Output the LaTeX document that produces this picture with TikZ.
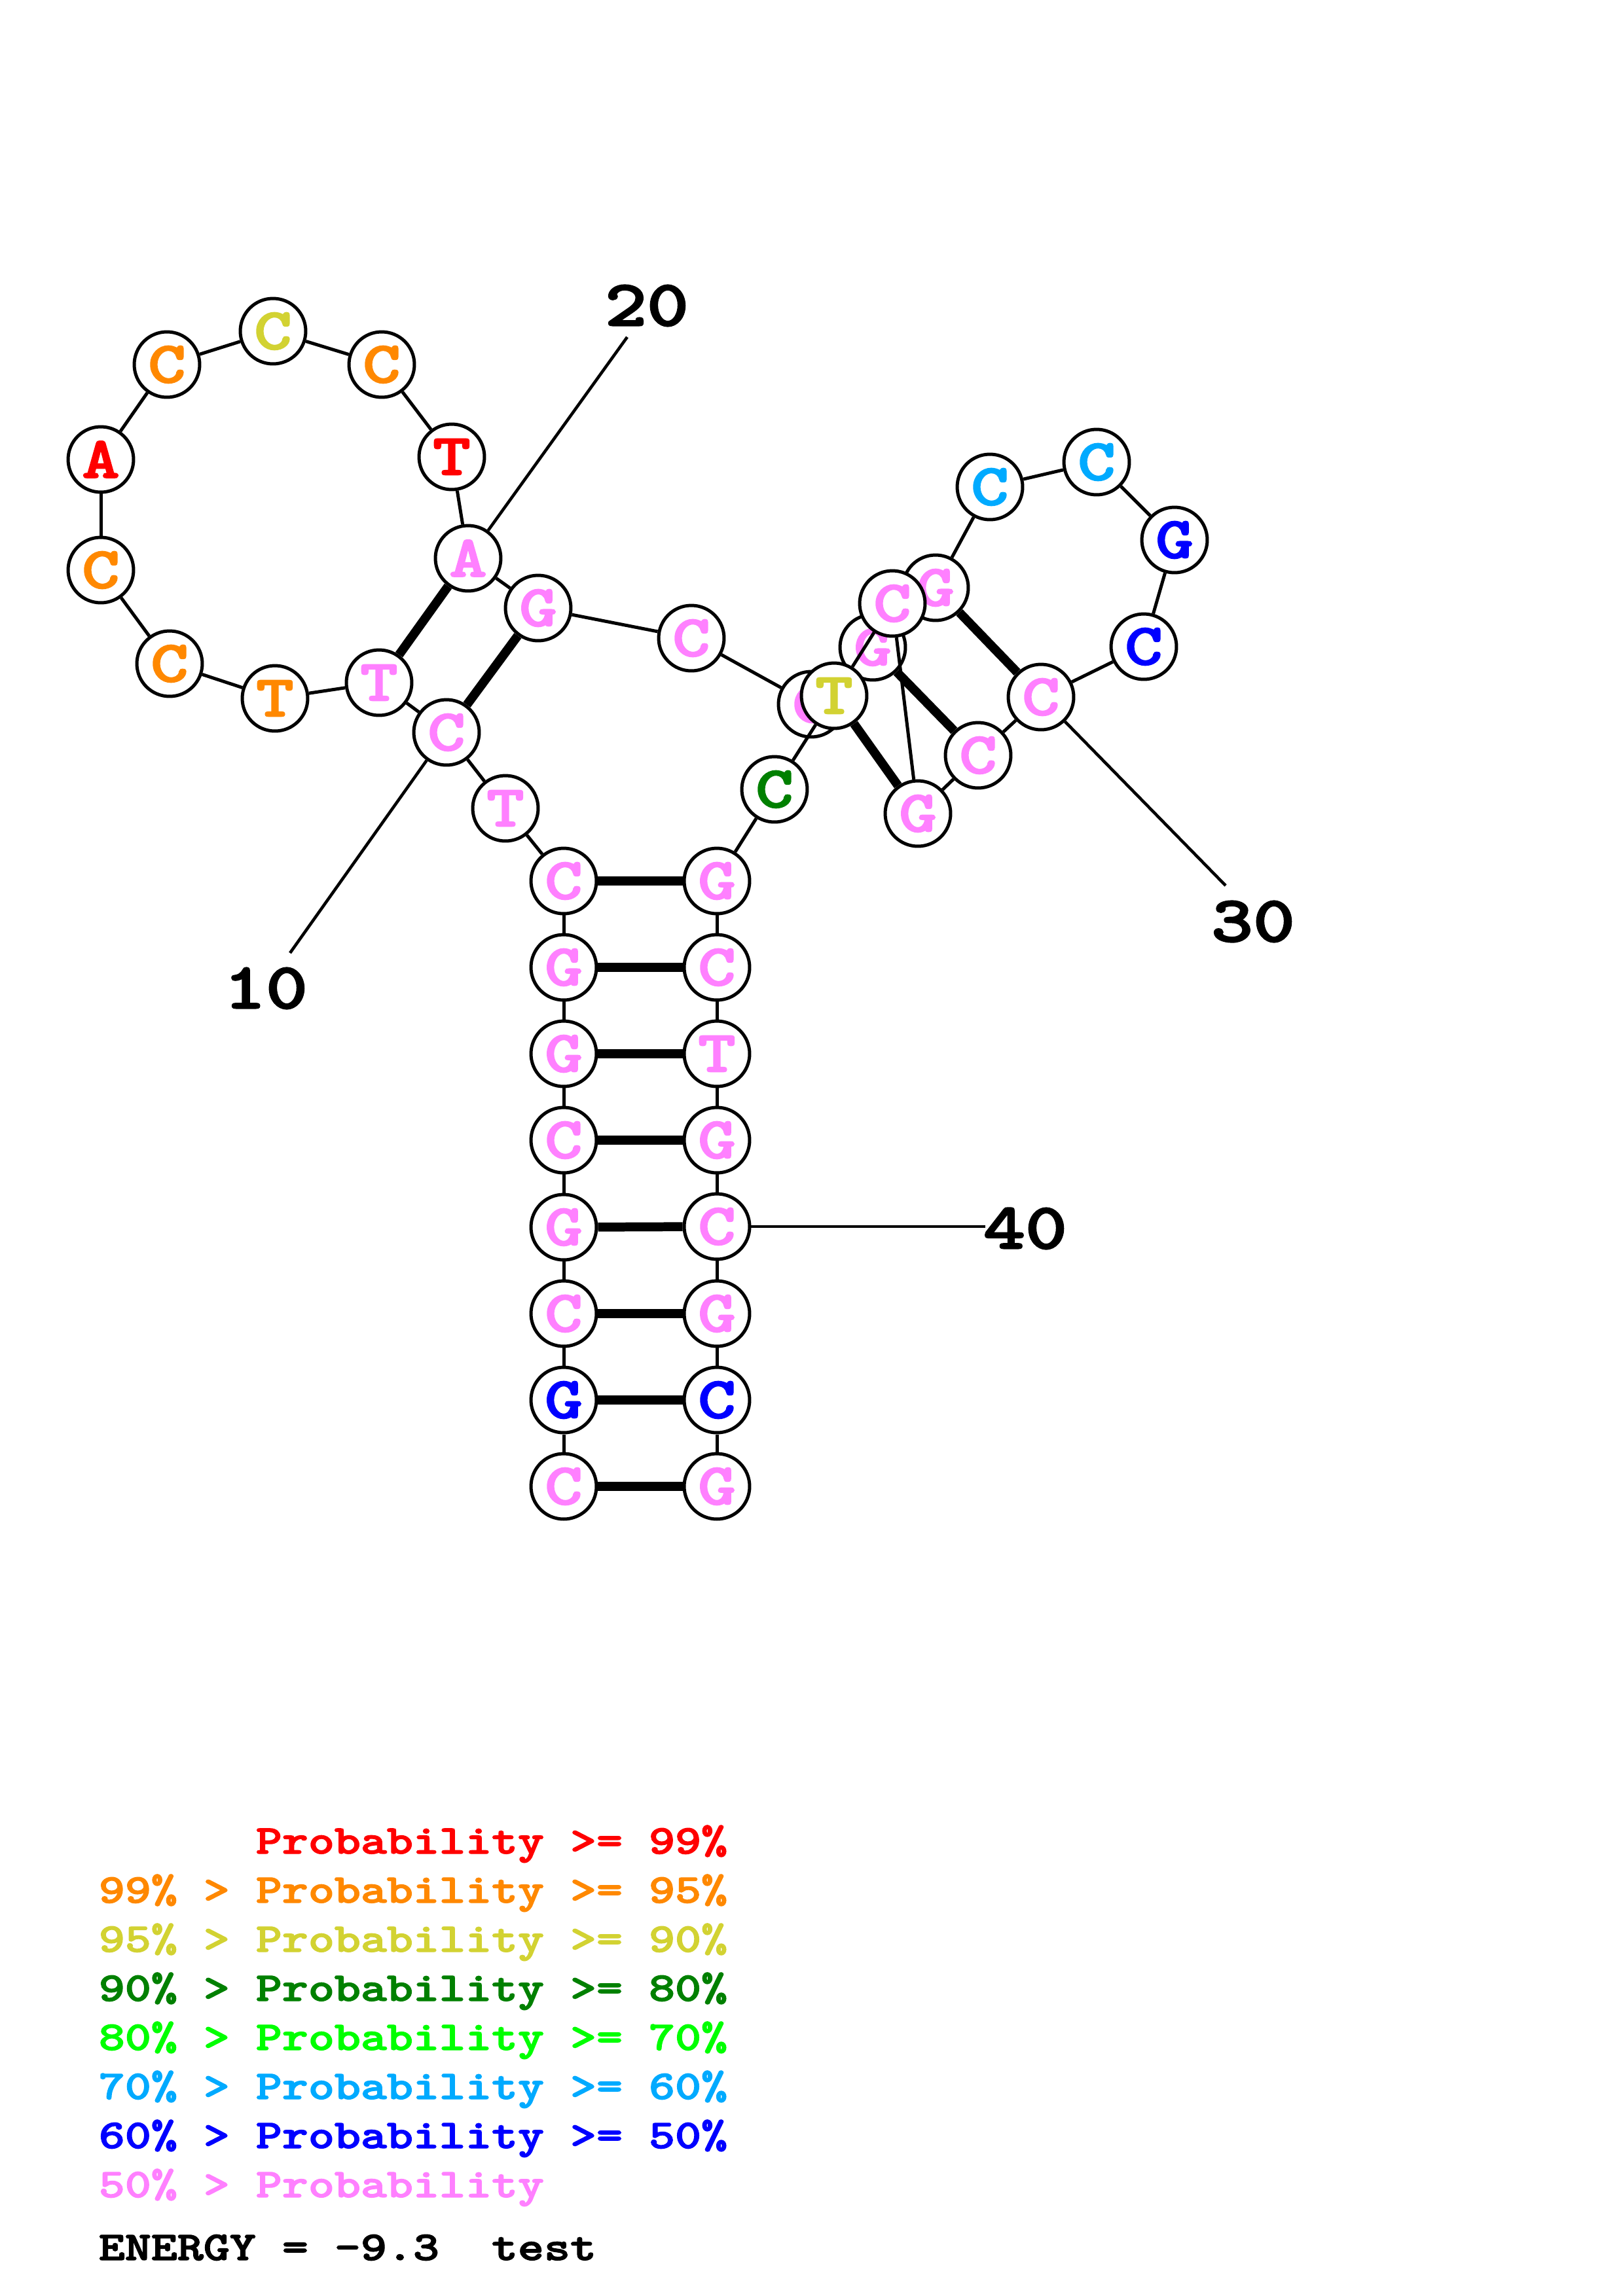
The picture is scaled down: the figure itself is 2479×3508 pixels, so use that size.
\documentclass[tikz,border=0pt]{standalone}
\usepackage{graphicx}
\usepackage{fontspec}
\newfontfamily\courb{lmmonolt10-bold}[Extension=.otf, FakeBold=2]
\definecolor{pr99}{RGB}{255,0,0}
\definecolor{pr95}{RGB}{255,136,0}
\definecolor{pr90}{RGB}{210,210,50}
\definecolor{pr80}{RGB}{0,128,0}
\definecolor{pr70}{RGB}{0,255,0}
\definecolor{pr60}{RGB}{0,170,255}
\definecolor{pr50}{RGB}{0,0,255}
\definecolor{prlo}{RGB}{255,128,255}
\newcommand{\wide}[1]{\scalebox{1.22}[1]{#1}}
\tikzset{
  nt/.style={circle, draw, fill=white, line width=1.2pt, minimum size=24pt, inner sep=0pt,
    font=\courb\fontsize{21.6}{24}\selectfont},
  bb/.style={line width=1.2pt},
  bp/.style={line width=3.3pt},
  numline/.style={line width=1.1pt},
  num/.style={inner sep=0pt, font=\courb\fontsize{24}{28}\selectfont},
  leg/.style={anchor=base west, inner sep=0pt, font=\courb\fontsize{15}{18}\selectfont}
}
\begin{document}
\begin{tikzpicture}[x=0.24013pt, y=-0.24013pt]
    \useasboundingbox (0,0) rectangle (2479,3508);
    % bases, each one tied to the one before
    \foreach \i/\x/\y/\nt/\col [remember=\i as \j (initially 0)] in {
        1/861/2271/C/prlo, 2/861/2139/G/pr50, 3/861/2007/C/prlo, 4/861/1875/G/prlo,
        5/861/1742/C/prlo, 6/861/1610/G/prlo, 7/861/1478/G/prlo, 8/861/1346/C/prlo,
        9/772/1235/T/prlo, 10/682/1119/C/prlo, 11/579/1043/T/prlo, 12/420/1067/T/pr95,
        13/259/1014/C/pr95, 14/154/871/C/pr95, 15/154/702/A/pr99, 16/255/557/C/pr95,
        17/417/506/C/pr90, 18/583/557/C/pr95, 19/690/698/T/pr99, 20/715/853/A/prlo,
        21/822/929/G/prlo, 22/1056/975/C/prlo, 23/1239/1076/C/prlo, 24/1333/989/G/prlo,
        25/1429/898/G/prlo, 26/1512/744/C/pr60, 27/1675/706/C/pr60, 28/1794/825/G/pr50,
        29/1747/988/C/pr50, 30/1590/1065/C/prlo, 31/1494/1154/C/prlo, 32/1402/1243/G/prlo,
        33/1363/922/C/prlo, 34/1274/1063/T/pr90, 35/1183/1206/C/pr80, 36/1095/1346/G/prlo,
        37/1095/1478/C/prlo, 38/1095/1610/T/prlo, 39/1095/1742/G/prlo, 40/1095/1874/C/prlo,
        41/1095/2007/G/prlo, 42/1095/2139/C/pr50, 43/1095/2271/G/prlo} {
        \node[nt, text=\col] (n\i) at (\x,\y) {\wide{\nt}};
        \ifnum\i>1 \draw[bb] (n\j) -- (n\i); \fi
    }
    % pairs
    \foreach \p/\q in {1/43, 2/42, 3/41, 4/40, 5/39, 6/38, 7/37, 8/36,
        10/21, 11/20, 24/31, 25/30, 32/34}
        \draw[bp] (n\p) -- (n\q);
    % numbering
    \coordinate (e10) at (443,1456);
    \coordinate (e20) at (958,515);
    \coordinate (e30) at (1872,1353);
    \coordinate (e40) at (1505,1874);
    \foreach \k in {10,20,30,40}
        \draw[numline] (n\k) -- (e\k);
    \node[num] (lab10) at (406,1510) {\wide{10}};
    \node[num] (lab20) at (988,467) {\wide{20}};
    \node[num] (lab30) at (1914,1408) {\wide{30}};
    \node[num] (lab40) at (1566,1877) {\wide{40}};
    % legend
    \node[leg, text=pr99] (lg99) at (150,2832) {\wide{\phantom{99\% > }Probability >= 99\%}};
    \node[leg, text=pr95] (lg95) at (150,2907) {\wide{99\% > Probability >= 95\%}};
    \node[leg, text=pr90] (lg90) at (150,2982) {\wide{95\% > Probability >= 90\%}};
    \node[leg, text=pr80] (lg80) at (150,3057) {\wide{90\% > Probability >= 80\%}};
    \node[leg, text=pr70] (lg70) at (150,3132) {\wide{80\% > Probability >= 70\%}};
    \node[leg, text=pr60] (lg60) at (150,3207) {\wide{70\% > Probability >= 60\%}};
    \node[leg, text=pr50] (lg50) at (150,3282) {\wide{60\% > Probability >= 50\%}};
    \node[leg, text=prlo] (lglo) at (150,3357) {\wide{50\% > Probability}};
    \node[leg] (energy) at (150,3453) {\wide{ENERGY = -9.3\ \ test}};
\end{tikzpicture}
\end{document}
